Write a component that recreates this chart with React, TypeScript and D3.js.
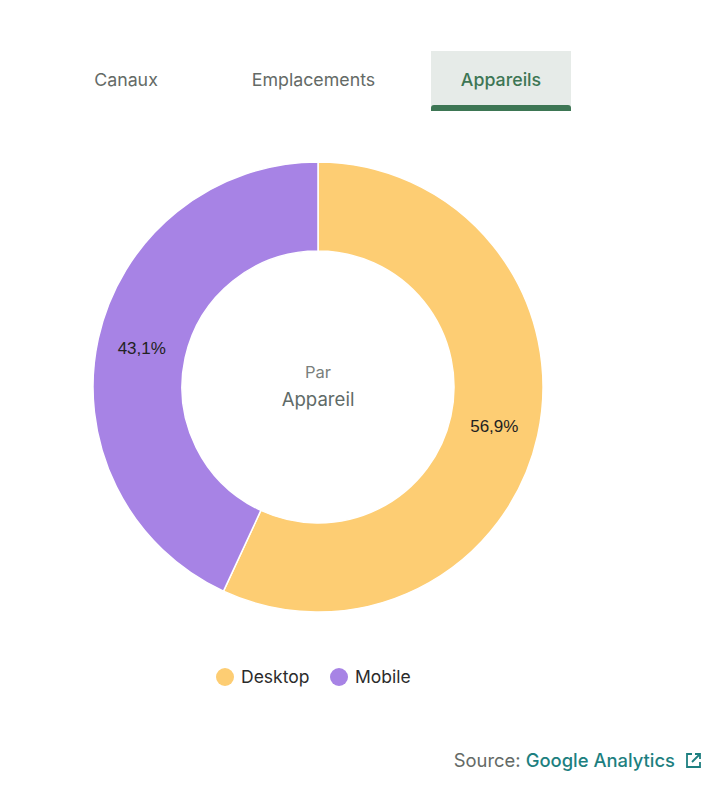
import * as d3 from 'd3';
import React, { useEffect, useRef } from 'react';

const tabs = ['Canaux', 'Emplacements', 'Appareils'];
const activeTab = 'Appareils';
const devices = ['Desktop', 'Mobile'];
const shares = [56.9, 43.1];
const colors = ['#fdcd73', '#a783e5'];
const centerTitle = ['Par', 'Appareil'];
const sourceLabel = 'Source:';
const sourceName = 'Google Analytics';

const FONT = 'Inter, Roboto, "Noto Sans", sans-serif';

export default function App() {
  const ref = useRef<SVGSVGElement>(null);

  useEffect(() => {
    if (!ref.current) return;
    const svg = d3.select(ref.current);
    svg.selectAll('*').remove();

    // Tabs
    const tabX = d3.scalePoint<string>().domain(tabs).range([126, 501]);
    const tabW = 140;
    const tg = svg.append('g');
    tg.append('rect')
      .attr('x', tabX(activeTab)! - tabW / 2)
      .attr('y', 51)
      .attr('width', tabW)
      .attr('height', 58)
      .attr('fill', '#e6ebe8');
    tg.append('path')
      .attr('d', () => {
        const x0 = tabX(activeTab)! - tabW / 2;
        const x1 = x0 + tabW;
        return `M${x0},111 L${x0},108 Q${x0},105 ${x0 + 3},105 L${x1 - 3},105 Q${x1},105 ${x1},108 L${x1},111 Z`;
      })
      .attr('fill', '#3d7654');
    tg.selectAll('text.tab')
      .data(tabs)
      .enter()
      .append('text')
      .attr('class', 'tab')
      .attr('x', d => tabX(d)!)
      .attr('y', 86)
      .attr('text-anchor', 'middle')
      .attr('font-family', FONT)
      .attr('font-size', 17.8)
      .attr('font-weight', d => (d === activeTab ? 500 : 400))
      .attr('fill', d => (d === activeTab ? '#3d7654' : '#646a66'))
      .text(d => d);

    // Donut
    const cx = 318;
    const cy = 387;
    const outer = 225;
    const inner = 136;
    const pie = d3.pie<number>().sort(null).value(d => d)(shares);
    const arc = d3.arc<d3.PieArcDatum<number>>().innerRadius(inner).outerRadius(outer);
    const g = svg.append('g').attr('transform', `translate(${cx},${cy})`);
    g.selectAll('path')
      .data(pie)
      .enter()
      .append('path')
      .attr('d', arc)
      .attr('fill', (d, i) => colors[i])
      .attr('stroke', '#fff')
      .attr('stroke-width', 1.5);
    g.selectAll('text.lbl')
      .data(pie)
      .enter()
      .append('text')
      .attr('class', 'lbl')
      .attr('transform', d => `translate(${arc.centroid(d)})`)
      .attr('text-anchor', 'middle')
      .attr('dy', '0.35em')
      .attr('font-family', '"Liberation Sans", Arial, sans-serif')
      .attr('font-size', 17)
      .attr('fill', '#222')
      .text(d => `${d3.format('.1f')(d.data).replace('.', ',')}%`);

    g.append('text')
      .attr('y', -9)
      .attr('text-anchor', 'middle')
      .attr('font-family', FONT)
      .attr('font-size', 16.5)
      .attr('fill', '#7a7f7c')
      .text(centerTitle[0]);
    g.append('text')
      .attr('y', 19)
      .attr('text-anchor', 'middle')
      .attr('font-family', FONT)
      .attr('font-size', 18.6)
      .attr('fill', '#5f6b68')
      .text(centerTitle[1]);

    // Legend
    const legX = d3.scalePoint<string>().domain(devices).range([225, 339]);
    const leg = svg
      .selectAll('g.leg')
      .data(devices)
      .enter()
      .append('g')
      .attr('class', 'leg')
      .attr('transform', d => `translate(${legX(d)},677)`);
    leg.append('circle').attr('r', 9).attr('fill', (d, i) => colors[i]);
    leg.append('text')
      .attr('x', 16)
      .attr('dy', '0.35em')
      .attr('font-family', FONT)
      .attr('font-size', 17.5)
      .attr('fill', '#2b2b2b')
      .text(d => d);

    // Source
    const src = svg.append('text')
      .attr('x', 675)
      .attr('y', 767)
      .attr('text-anchor', 'end')
      .attr('font-family', FONT)
      .attr('font-size', 18.4);
    src.append('tspan').attr('fill', '#646a66').text(sourceLabel + ' ');
    src.append('tspan').attr('fill', '#1d7f80').attr('font-weight', 500).text(sourceName);
    const ic = svg.append('g').attr('transform', 'translate(686,753)')
      .attr('fill', 'none').attr('stroke', '#1d7f80').attr('stroke-width', 1.8);
    ic.append('path').attr('d', 'M6,1 H1 V14 H14 V9');
    ic.append('path').attr('d', 'M9,1 H14 V6 M14,1 L6,9');
  }, []);

  return (
    <svg ref={ref} width={706} height={790} style={{ display: 'block', margin: '-8px 0 0 -8px' }} />
  );
}
